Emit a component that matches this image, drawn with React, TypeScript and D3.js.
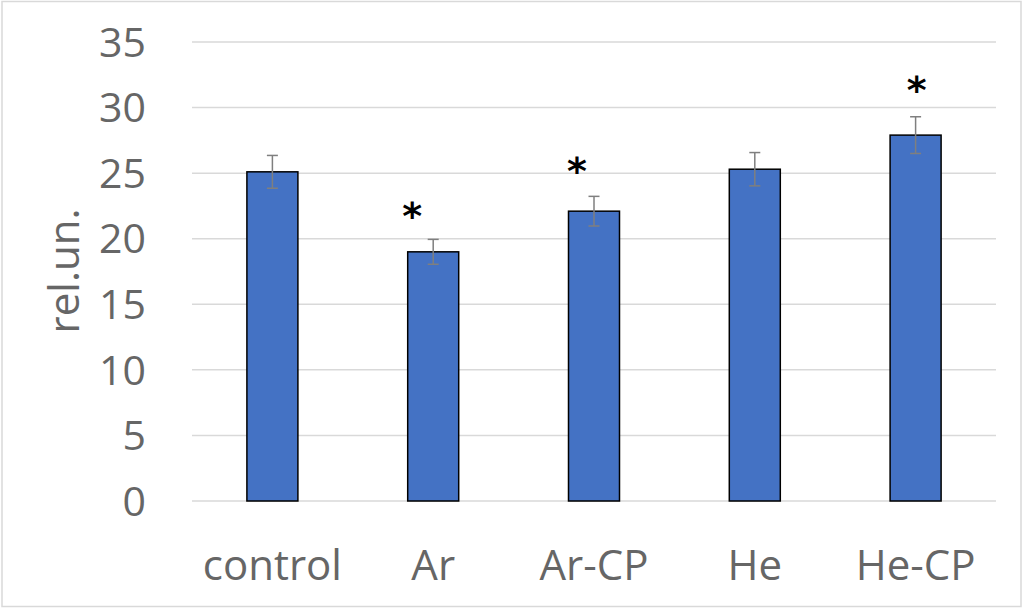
import * as d3 from "d3";
import React from "react";

const categories = ["control", "Ar", "Ar-CP", "He", "He-CP"];
const means = [25.1, 19.0, 22.1, 25.3, 27.9];
const errors = [1.25, 0.95, 1.13, 1.27, 1.4];
const yTicks = [0, 5, 10, 15, 20, 25, 30, 35];
// significance marks: category and the value level where the * sits
const sigCats = ["Ar", "Ar-CP", "He-CP"];
const sigLevels = [22.26, 25.7, 31.86];
const sigShift = [-21, -17, 1];

const W = 1024;
const H = 609;
const margin = { left: 192, right: 28, top: 42, bottom: 108 };

const App: React.FC = () => {
  const x = d3
    .scaleBand()
    .domain(categories)
    .range([margin.left, W - margin.right])
    .paddingInner(0)
    .paddingOuter(0);
  const y = d3
    .scaleLinear()
    .domain([0, 35])
    .range([H - margin.bottom, margin.top]);
  const barW = 51;
  const cx = (c: string) => (x(c) || 0) + x.bandwidth() / 2;
  const font = "'Open Sans', sans-serif";

  return (
    <svg
      width={W}
      height={H}
      style={{ position: "absolute", left: 0, top: 0, background: "#fff" }}
    >
      <rect x={2} y={1.5} width={1019} height={605} fill="#fff" stroke="#d9d9d9" strokeWidth={1.5} />
      {yTicks.map((t) => (
        <g key={t}>
          <line
            x1={margin.left}
            x2={W - margin.right}
            y1={y(t)}
            y2={y(t)}
            stroke="#d9d9d9"
            strokeWidth={1.5}
          />
          <text
            x={146}
            y={y(t)}
            dy="0.36em"
            textAnchor="end"
            fontFamily={font}
            fontSize={41}
            fill="#666"
          >
            {t}
          </text>
        </g>
      ))}
      <text
        transform={`translate(79, ${271}) rotate(-90)`}
        textAnchor="middle"
        fontFamily={font}
        fontSize={42}
        fill="#666"
      >
        rel.un.
      </text>
      {categories.map((c, i) => (
        <g key={c}>
          <rect
            x={cx(c) - barW / 2}
            y={y(means[i])}
            width={barW}
            height={y(0) - y(means[i])}
            fill="#4472c4"
            stroke="#000"
            strokeWidth={1.5}
          />
          <g stroke="#7f7f7f" strokeWidth={1.5}>
            <line x1={cx(c)} x2={cx(c)} y1={y(means[i] + errors[i])} y2={y(means[i] - errors[i])} />
            <line x1={cx(c) - 5.5} x2={cx(c) + 5.5} y1={y(means[i] + errors[i])} y2={y(means[i] + errors[i])} />
            <line x1={cx(c) - 5.5} x2={cx(c) + 5.5} y1={y(means[i] - errors[i])} y2={y(means[i] - errors[i])} />
          </g>
          <text
            x={cx(c)}
            y={580}
            textAnchor="middle"
            fontFamily={font}
            fontSize={42}
            fill="#666"
          >
            {c}
          </text>
        </g>
      ))}
      {sigCats.map((c, i) => (
        <text
          key={c}
          x={cx(c) + sigShift[i]}
          y={y(sigLevels[i]) + 20}
          textAnchor="middle"
          fontFamily="'DejaVu Sans', sans-serif"
          fontWeight="bold"
          fontSize={38}
          fill="#000"
        >
          *
        </text>
      ))}
    </svg>
  );
};

export default App;
